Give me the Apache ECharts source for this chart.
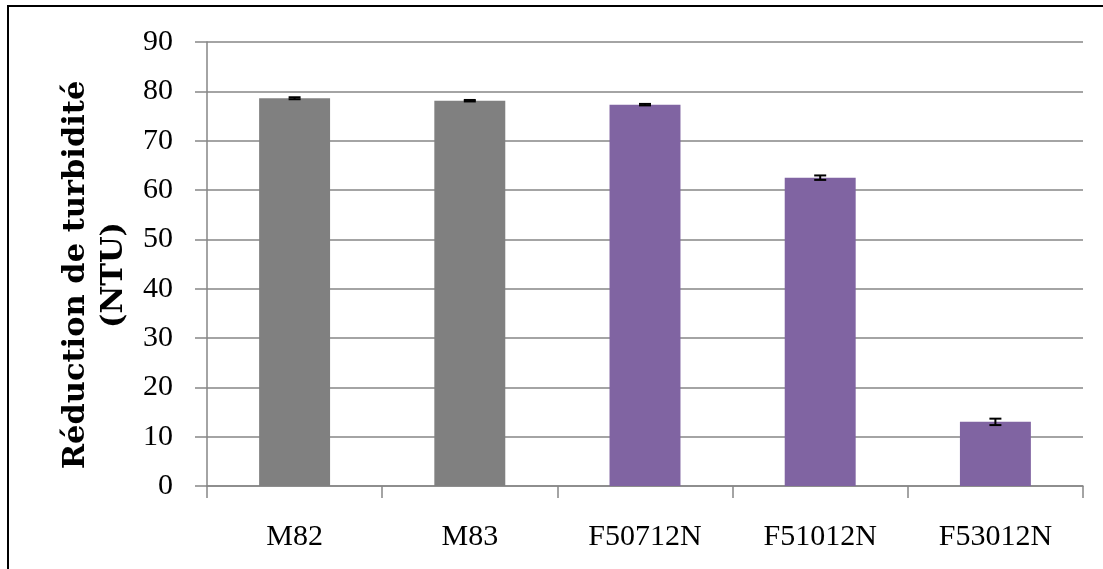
<!DOCTYPE html>
<html>
<head>
<meta charset="utf-8">
<script src="https://cdn.jsdelivr.net/npm/echarts@6/dist/echarts.min.js"></script>
<style>
html,body{margin:0;padding:0;background:#fff;}
#chart{width:1103px;height:569px;}
</style>
</head>
<body>
<div id="chart"></div>
<script>
const categories = ['M82', 'M83', 'F50712N', 'F51012N', 'F53012N'];
const values = [78.6, 78.1, 77.3, 62.5, 13.0];
const errors = [0.2, 0.15, 0.15, 0.45, 0.65];
const barColors = ['#808080', '#808080', '#8064A2', '#8064A2', '#8064A2'];
const yTicks = [0, 10, 20, 30, 40, 50, 60, 70, 80, 90];
const yTitleLine1 = 'Réduction de turbidité';
const yTitleLine2 = '(NTU)';

const FONT = '"Liberation Serif", "DejaVu Serif", serif';
const TFONT = '"DejaVu Serif", "Liberation Serif", serif';
const chart = echarts.init(document.getElementById('chart'), null, {renderer: 'canvas'});

const option = {
  animation: false,
  backgroundColor: '#ffffff',
  grid: {left: 207, right: 20, top: 42, bottom: 83, containLabel: false},
  xAxis: {
    type: 'category',
    data: categories,
    boundaryGap: true,
    axisLine: {show: true, lineStyle: {color: '#868686', width: 1.5}},
    axisTick: {show: true, length: 12, lineStyle: {color: '#868686', width: 1.5}},
    axisLabel: {color: '#000', fontFamily: FONT, fontSize: 30, margin: 36}
  },
  yAxis: {
    type: 'value',
    min: yTicks[0],
    max: yTicks[yTicks.length - 1],
    interval: 10,
    axisLine: {show: true, lineStyle: {color: '#868686', width: 1.5}},
    axisTick: {show: true, length: 12, lineStyle: {color: '#868686', width: 1.5}},
    axisLabel: {color: '#000', fontFamily: FONT, fontSize: 30, margin: 34},
    splitLine: {show: true, lineStyle: {color: '#868686', width: 1.5}}
  },
  series: [
    {
      type: 'bar',
      barWidth: '40.5%',
      data: values.map((v, i) => ({value: v, itemStyle: {color: barColors[i]}})),
      z: 2
    },
    {
      type: 'custom',
      z: 5,
      data: values.map((v, i) => [i, v - errors[i], v + errors[i]]),
      renderItem: function (params, api) {
        const lo = api.coord([api.value(0), api.value(1)]);
        const hi = api.coord([api.value(0), api.value(2)]);
        const hw = 6;
        const style = {stroke: '#000', lineWidth: 2};
        return {
          type: 'group',
          children: [
            {type: 'line', shape: {x1: lo[0], y1: lo[1], x2: hi[0], y2: hi[1]}, style: style},
            {type: 'line', shape: {x1: lo[0] - hw, y1: lo[1], x2: lo[0] + hw, y2: lo[1]}, style: style},
            {type: 'line', shape: {x1: hi[0] - hw, y1: hi[1], x2: hi[0] + hw, y2: hi[1]}, style: style}
          ]
        };
      }
    }
  ],
  graphic: [
    {type: 'rect', shape: {x: 8, y: 6, width: 1300, height: 800}, style: {fill: null, stroke: '#000', lineWidth: 2}, silent: true},
    {
      type: 'text', x: 76, y: 275, rotation: Math.PI / 2,
      style: {text: yTitleLine1, font: 'bold 30.5px ' + TFONT, fill: '#000', textAlign: 'center', textVerticalAlign: 'middle'}
    },
    {
      type: 'text', x: 114, y: 275, rotation: Math.PI / 2,
      style: {text: yTitleLine2, font: 'bold 30.5px ' + TFONT, fill: '#000', textAlign: 'center', textVerticalAlign: 'middle'}
    }
  ]
};
chart.setOption(option);
</script>
</body>
</html>
